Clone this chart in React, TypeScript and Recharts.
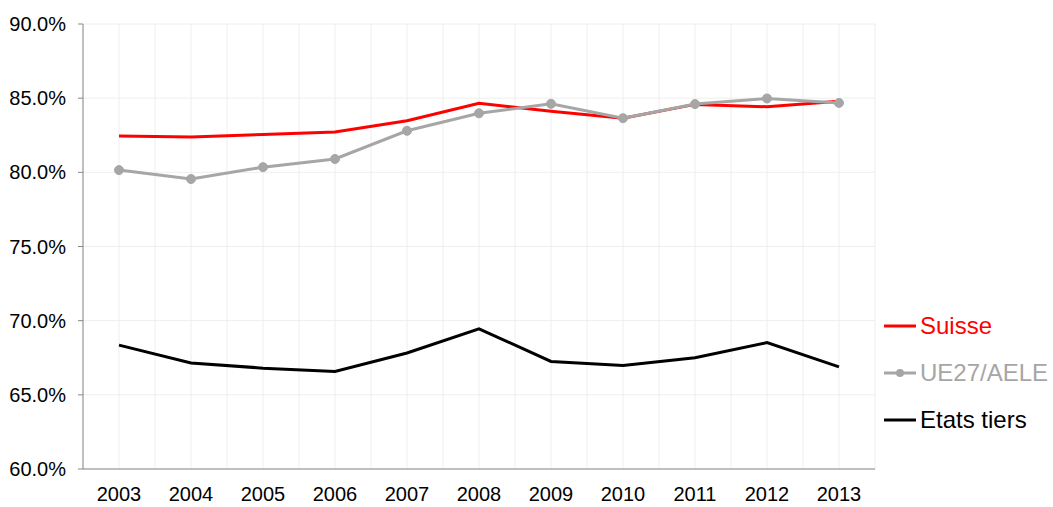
import { CartesianGrid, Line, LineChart, XAxis, YAxis } from "recharts";

const years = [2003, 2004, 2005, 2006, 2007, 2008, 2009, 2010, 2011, 2012, 2013];
const suisse = [82.45, 82.38, 82.55, 82.72, 83.48, 84.65, 84.12, 83.65, 84.58, 84.42, 84.8];
const ue27 = [80.15, 79.55, 80.35, 80.9, 82.8, 83.98, 84.62, 83.65, 84.6, 84.98, 84.68];
const tiers = [68.35, 67.15, 66.8, 66.58, 67.82, 69.45, 67.25, 66.98, 67.5, 68.52, 66.88];
const yTicks = [60, 65, 70, 75, 80, 85, 90];

const series = [
  { key: "suisse", name: "Suisse", color: "#ff0000", dot: false },
  { key: "ue27", name: "UE27/AELE", color: "#a6a6a6", dot: true },
  { key: "tiers", name: "Etats tiers", color: "#000000", dot: false },
];

const data = years.map((y, i) => ({ year: y, suisse: suisse[i], ue27: ue27[i], tiers: tiers[i] }));
const bounds = [...years.map((y) => y - 0.5), years[years.length - 1] + 0.5];
const gridX = [...bounds, ...years].sort((a, b) => a - b);

const font = "'Liberation Sans', Arial, sans-serif";
const tickStyle = { fontSize: 20, fill: "#000", fontFamily: font };

function LegendBox() {
  return (
    <div style={{ position: "absolute", left: 884, top: 302, fontFamily: font, fontSize: 24 }}>
      {series.map((s) => (
        <div key={s.key} style={{ display: "flex", alignItems: "center", height: 47 }}>
          <svg width={34} height={12}>
            <line x1={0} y1={6} x2={32} y2={6} stroke={s.color} strokeWidth={3} />
            {s.dot && <circle cx={16} cy={6} r={4} fill={s.color} />}
          </svg>
          <span style={{ color: s.color, marginLeft: 2 }}>{s.name}</span>
        </div>
      ))}
    </div>
  );
}

export default function App() {
  return (
    <div style={{ position: "absolute", left: 0, top: 0, width: 1053, height: 507, background: "#fff" }}>
      <LineChart width={1053} height={507} data={data} margin={{ top: 24, right: 178, bottom: 0, left: 0 }}>
        <CartesianGrid stroke="#eeeeee" strokeWidth={1} verticalValues={gridX} horizontalValues={yTicks} />
        <XAxis
          dataKey="year"
          type="number"
          domain={[2002.5, 2013.5]}
          ticks={years}
          tickLine={false}
          axisLine={{ stroke: "#888888" }}
          tick={tickStyle}
          tickMargin={12}
          height={38}
          interval={0}
        />
        <XAxis
          xAxisId="b"
          dataKey="year"
          type="number"
          domain={[2002.5, 2013.5]}
          ticks={bounds}
          tick={false}
          tickLine={{ stroke: "#888888" }}
          tickSize={6}
          axisLine={false}
          height={0}
          interval={0}
        />
        <YAxis
          domain={[60, 90]}
          ticks={yTicks}
          interval={0}
          width={83}
          tick={tickStyle}
          tickFormatter={(v: number) => `${v.toFixed(1)}%`}
          axisLine={{ stroke: "#888888" }}
          tickLine={{ stroke: "#888888" }}
          tickSize={5}
          tickMargin={12}
        />
        {series.map((s) => (
          <Line
            key={s.key}
            dataKey={s.key}
            name={s.name}
            stroke={s.color}
            strokeWidth={3}
            type="linear"
            dot={s.dot ? { r: 4.5, fill: s.color, stroke: s.color, strokeWidth: 1 } : false}
            activeDot={false}
            isAnimationActive={false}
          />
        ))}
      </LineChart>
      <LegendBox />
    </div>
  );
}
